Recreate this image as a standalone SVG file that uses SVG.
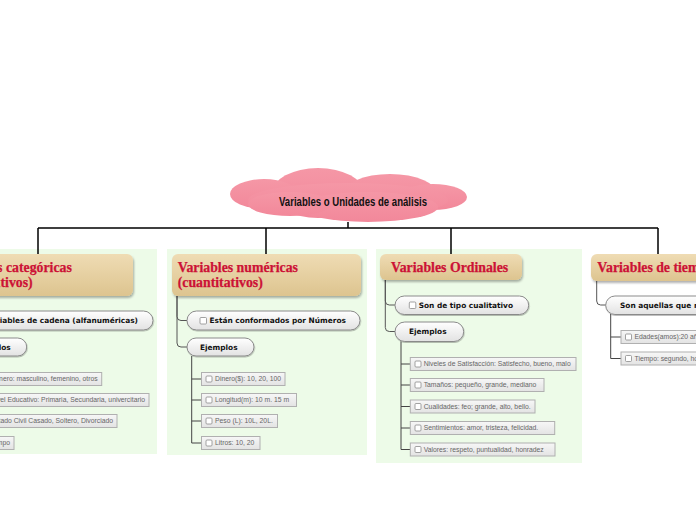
<svg xmlns="http://www.w3.org/2000/svg" width="696" height="520" viewBox="0 0 696 520">
<style>
.panel{fill:#edfbe8}
.tbox{fill:url(#gTan);filter:url(#sh)}
.ttl{font-family:"Liberation Serif","DejaVu Serif",serif;font-weight:bold;font-size:13.8px;fill:#cc1236;stroke:#cc1236;stroke-width:0.25}
.pill{fill:url(#gPill);stroke:#8a8a8a;stroke-width:1;filter:url(#sh2)}
.ptxt{font-family:"DejaVu Sans","Liberation Sans",sans-serif;font-weight:bold;font-size:7.4px;fill:#111}
.leaf{fill:url(#gLeaf);stroke:#b0b0b0;stroke-width:1}
.ltxt{font-family:"Liberation Sans","Arial",sans-serif;font-size:6.8px;fill:#666}
.cb{fill:#fff;stroke:#8a8a8a;stroke-width:0.8}
.main{fill:none;stroke:#000;stroke-width:1.5}
.sub{fill:none;stroke:#555;stroke-width:1}
.leafc{fill:none;stroke:#444;stroke-width:1}
</style>
<defs>
<linearGradient id="gTan" x1="0" y1="0" x2="0" y2="1"><stop offset="0" stop-color="#efdcb4"/><stop offset="1" stop-color="#ddc48f"/></linearGradient>
<linearGradient id="gPill" x1="0" y1="0" x2="0" y2="1"><stop offset="0" stop-color="#ffffff"/><stop offset="1" stop-color="#e2e2e2"/></linearGradient>
<linearGradient id="gLeaf" x1="0" y1="0" x2="0" y2="1"><stop offset="0" stop-color="#f7f7f7"/><stop offset="1" stop-color="#e3e3e3"/></linearGradient>
<linearGradient id="gCloud" x1="0" y1="0" x2="0" y2="1"><stop offset="0" stop-color="#f597a6"/><stop offset="1" stop-color="#f2889a"/></linearGradient>
<filter id="sh" x="-10%" y="-20%" width="120%" height="150%"><feDropShadow dx="1" dy="2" stdDeviation="1.2" flood-color="#000" flood-opacity="0.3"/></filter>
<filter id="sh2" x="-10%" y="-30%" width="120%" height="160%"><feDropShadow dx="0.5" dy="1" stdDeviation="0.6" flood-color="#000" flood-opacity="0.25"/></filter>
</defs>
<rect width="696" height="520" fill="#fff"/>
<g id="panels">
<rect class="panel" x="0" y="249" width="157" height="205"/>
<rect class="panel" x="167" y="249" width="200" height="206"/>
<rect class="panel" x="376" y="249" width="206" height="214"/>
</g>
<g id="connectors">
<path class="main" d="M348 222 V228 M38 228 H658 M38 228 V254 M266 228 V254 M451 228 V254 M658 228 V254"/>
<path class="sub" d="M177 296 V316.5 Q177 320.5 181 320.5 H187 M177 296 V343 Q177 347 181 347 H187"/>
<path class="leafc" d="M191.7 356 V443 H201 M191.7 379 H201 M191.7 400 H201 M191.7 421 H201"/>
<path class="sub" d="M385.3 280 V301 Q385.3 305 389.3 305 H395 M385.3 280 V327.5 Q385.3 331.5 389.3 331.5 H395"/>
<path class="leafc" d="M401 341.5 V449.5 H410 M401 364 H410 M401 385 H410 M401 406.5 H410 M401 428 H410"/>
<path class="sub" d="M596.7 281 V301 Q596.7 305 600.7 305 H606"/>
<path class="leafc" d="M610.7 314 V358.5 H621 M610.7 337 H621"/>
</g>
<g id="root">
<g fill="url(#gCloud)">
<ellipse cx="318" cy="193" rx="46" ry="25"/>
<ellipse cx="390" cy="195" rx="48" ry="21"/>
<ellipse cx="264" cy="194" rx="34" ry="15"/>
<ellipse cx="433" cy="197" rx="34" ry="13"/>
<ellipse cx="348" cy="200" rx="100" ry="17"/>
<ellipse cx="368" cy="207" rx="70" ry="15"/>
<ellipse cx="290" cy="204" rx="42" ry="12"/>
</g>
<text x="353" y="205.5" text-anchor="middle" textLength="148" lengthAdjust="spacingAndGlyphs" font-family="'Liberation Sans Narrow','Liberation Sans',sans-serif" font-weight="bold" font-size="13.5px" fill="#111">Variables o Unidades de  análisis</text>
</g>
<g id="n-categoricas">
<rect class="tbox" x="-57" y="254" width="190" height="42" rx="6"/>
<text class="ttl" x="-53" y="272">Variables categóricas</text>
<text class="ttl" x="-44" y="287">(cualitativos)</text>
</g>
<g id="n-cadena">
<rect class="pill" x="-60" y="311" width="213" height="19" rx="9.5"/>
<text class="ptxt" x="138" y="323.2" text-anchor="end">Variables de cadena (alfanuméricas)</text>
</g>
<g id="n-ejemplos1">
<rect class="pill" x="-40" y="338" width="66.7" height="18" rx="9"/>
<text class="ptxt" x="10.7" y="349.7" text-anchor="end">Ejemplos</text>
</g>
<g id="n-genero"><rect class="leaf" x="-80" y="372.5" width="181.7" height="13"/><text class="ltxt" x="97.7" y="381.4" text-anchor="end">Género: masculino, femenino, otros</text></g>
<g id="n-nivel"><rect class="leaf" x="-80" y="393.5" width="229" height="13"/><text class="ltxt" x="145" y="402.4" text-anchor="end">Nivel Educativo: Primaria, Secundaria, univercitario</text></g>
<g id="n-estado"><rect class="leaf" x="-80" y="414.5" width="197" height="13"/><text class="ltxt" x="113" y="423.4" text-anchor="end">Estado Civil Casado, Soltero, Divorciado</text></g>
<g id="n-tiempo1"><rect class="leaf" x="-80" y="436.5" width="94" height="13"/><text class="ltxt" x="10" y="445.4" text-anchor="end">Tiempo</text></g>

<g id="n-numericas">
<rect class="tbox" x="172" y="254" width="189" height="42" rx="6"/>
<text class="ttl" x="177.7" y="272">Variables numéricas</text>
<text class="ttl" x="177.7" y="287">(cuantitativos)</text>
</g>
<g id="n-conformados">
<rect class="pill" x="187" y="311" width="173" height="19" rx="9.5"/>
<rect class="cb" x="200" y="317.5" width="6.5" height="6.5" rx="1"/>
<text class="ptxt" x="209.5" y="323.2">Están conformados por Números</text>
</g>
<g id="n-ejemplos2">
<rect class="pill" x="187" y="338" width="67" height="18" rx="9"/>
<text class="ptxt" x="200" y="349.7">Ejemplos</text>
</g>
<g id="n-dinero"><rect class="leaf" x="201.5" y="372.5" width="83.5" height="13"/><rect class="cb" x="206" y="376" width="6" height="6" rx="1"/><text class="ltxt" x="215" y="381.4">Dinero($): 10, 20, 100</text></g>
<g id="n-longitud"><rect class="leaf" x="201.5" y="393.5" width="95" height="13"/><rect class="cb" x="206" y="397" width="6" height="6" rx="1"/><text class="ltxt" x="215" y="402.4">Longitud(m): 10 m. 15 m</text></g>
<g id="n-peso"><rect class="leaf" x="201.5" y="414.5" width="76" height="13"/><rect class="cb" x="206" y="418" width="6" height="6" rx="1"/><text class="ltxt" x="215" y="423.4">Peso (L): 10L, 20L.</text></g>
<g id="n-litros"><rect class="leaf" x="201.5" y="436.5" width="58.5" height="13"/><rect class="cb" x="206" y="440" width="6" height="6" rx="1"/><text class="ltxt" x="215" y="445.4">Litros: 10, 20</text></g>

<g id="n-ordinales">
<rect class="tbox" x="380" y="254" width="142" height="26" rx="6"/>
<text class="ttl" x="391" y="272">Variables Ordinales</text>
</g>
<g id="n-cualitativo">
<rect class="pill" x="395" y="296" width="133.7" height="18.5" rx="9.25"/>
<rect class="cb" x="409.3" y="302" width="6.5" height="6.5" rx="1"/>
<text class="ptxt" x="418.7" y="307.8">Son de tipo cualitativo</text>
</g>
<g id="n-ejemplos3">
<rect class="pill" x="395" y="322" width="68.7" height="19.5" rx="9.75"/>
<text class="ptxt" x="409" y="334.3">Ejemplos</text>
</g>
<g id="n-niveles"><rect class="leaf" x="410.3" y="357.5" width="165.7" height="13"/><rect class="cb" x="415" y="361" width="6" height="6" rx="1"/><text class="ltxt" x="423.7" y="366.4">Niveles de Satisfacción: Satisfecho, bueno, malo</text></g>
<g id="n-tamanos"><rect class="leaf" x="410.3" y="378.5" width="133.7" height="13"/><rect class="cb" x="415" y="382" width="6" height="6" rx="1"/><text class="ltxt" x="423.7" y="387.4">Tamaños: pequeño, grande, mediano</text></g>
<g id="n-cualidades"><rect class="leaf" x="410.3" y="400" width="124.7" height="13"/><rect class="cb" x="415" y="403.5" width="6" height="6" rx="1"/><text class="ltxt" x="423.7" y="408.9">Cualidades: feo; grande, alto, bello.</text></g>
<g id="n-sentimientos"><rect class="leaf" x="410.3" y="421.5" width="144.4" height="13"/><rect class="cb" x="415" y="425" width="6" height="6" rx="1"/><text class="ltxt" x="423.7" y="430.4">Sentimientos: amor, tristeza, felicidad.</text></g>
<g id="n-valores"><rect class="leaf" x="410.3" y="443" width="144.7" height="13"/><rect class="cb" x="415" y="446.5" width="6" height="6" rx="1"/><text class="ltxt" x="423.7" y="451.9">Valores: respeto, puntualidad, honradez</text></g>

<g id="n-tiempo">
<rect class="tbox" x="591" y="254" width="160" height="27" rx="6"/>
<text class="ttl" x="597.3" y="272">Variables de tiempo</text>
</g>
<g id="n-aquellas">
<rect class="pill" x="605.7" y="296" width="160" height="18.5" rx="9.25"/>
<text class="ptxt" x="620" y="307.8">Son aquellas que miden el tiempo</text>
</g>
<g id="n-edades"><rect class="leaf" x="621" y="330.5" width="120" height="13"/><rect class="cb" x="625.5" y="334" width="6" height="6" rx="1"/><text class="ltxt" x="634.5" y="339.4">Edades(amos):20 años</text></g>
<g id="n-tiempo2"><rect class="leaf" x="621" y="352" width="120" height="13"/><rect class="cb" x="625.5" y="355.5" width="6" height="6" rx="1"/><text class="ltxt" x="634.5" y="360.9">Tiempo: segundo, hora</text></g>
</svg>
